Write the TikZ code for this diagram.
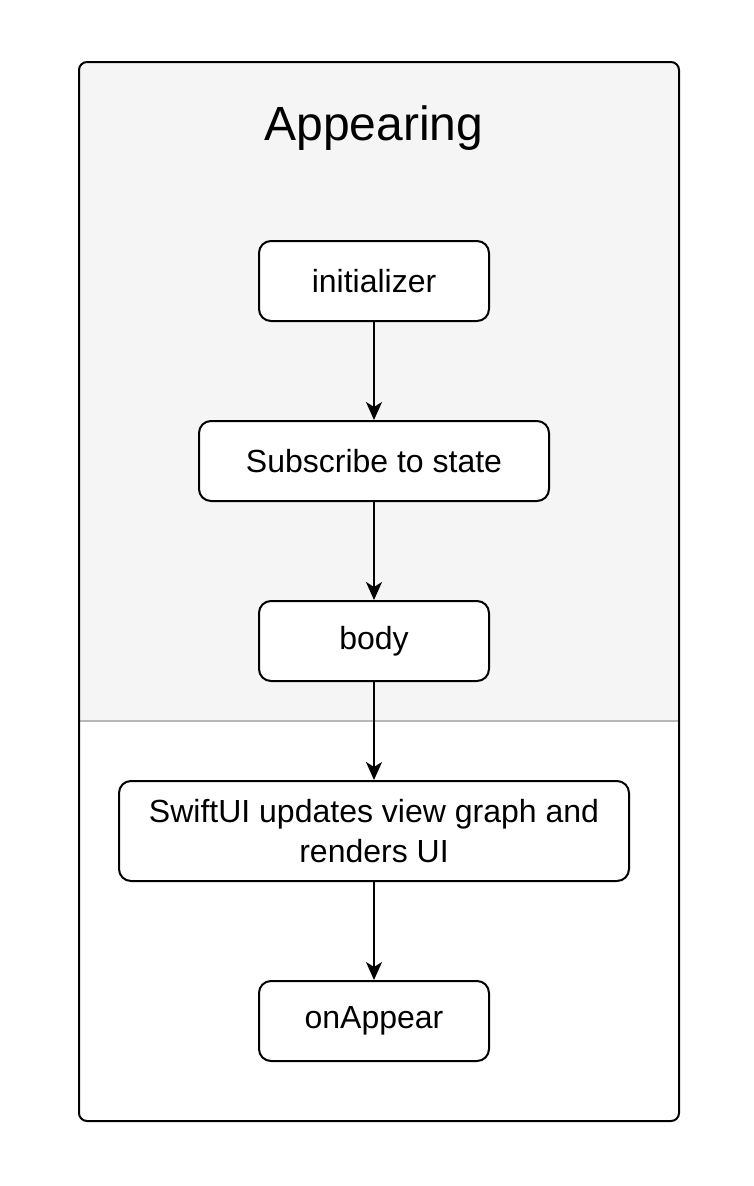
\documentclass[tikz,border=0pt]{standalone}
\usepackage{fontspec}
\setmainfont{Liberation Sans}
\usetikzlibrary{arrows.meta}
\definecolor{panelgray}{HTML}{F5F5F5}
\definecolor{divgray}{HTML}{B8B8B8}
\tikzset{
  stepbox/.style={draw=black, line width=2pt, fill=white, rounded corners=12pt,
    minimum height=80pt, inner sep=0pt, align=center,
    font=\fontsize{32}{40}\selectfont},
  flowarrow/.style={draw=black, line width=2pt, -{Stealth[length=18pt,width=16pt,inset=5pt]}}
}
\begin{document}
\begin{tikzpicture}[x=1pt,y=-1pt]
\useasboundingbox (0,0) rectangle (754,1186);
\fill[white] (0,0) rectangle (754,1186);
\begin{scope}
  \clip[rounded corners=8pt] (79,62) rectangle (679,1121);
  \fill[panelgray] (79,62) rectangle (679,721);
\end{scope}
\coordinate (divL) at (79,721);
\coordinate (divR) at (679,721);
\draw[divgray, line width=2pt] (divL) -- (divR);
\draw[black, line width=2pt, rounded corners=8pt] (79,62) rectangle (679,1121);
\node[anchor=base, font=\fontsize{48}{56}\selectfont] (title) at (374,140) {Appearing};
\node[stepbox, minimum width=230pt] (init) at (374,281) {initializer};
\node[stepbox, minimum width=350pt] (sub) at (374,461) {Subscribe to state};
\node[stepbox, minimum width=230pt] (body) at (374,641) {body};
\node[stepbox, minimum width=510pt, minimum height=100pt] (swift) at (374,831) {SwiftUI updates view graph and\\renders UI};
\node[stepbox, minimum width=230pt] (appear) at (374,1021) {onAppear};
\draw[flowarrow] (init) -- (sub);
\draw[flowarrow] (sub) -- (body);
\draw[flowarrow] (body) -- (swift);
\draw[flowarrow] (swift) -- (appear);
\end{tikzpicture}
\end{document}
